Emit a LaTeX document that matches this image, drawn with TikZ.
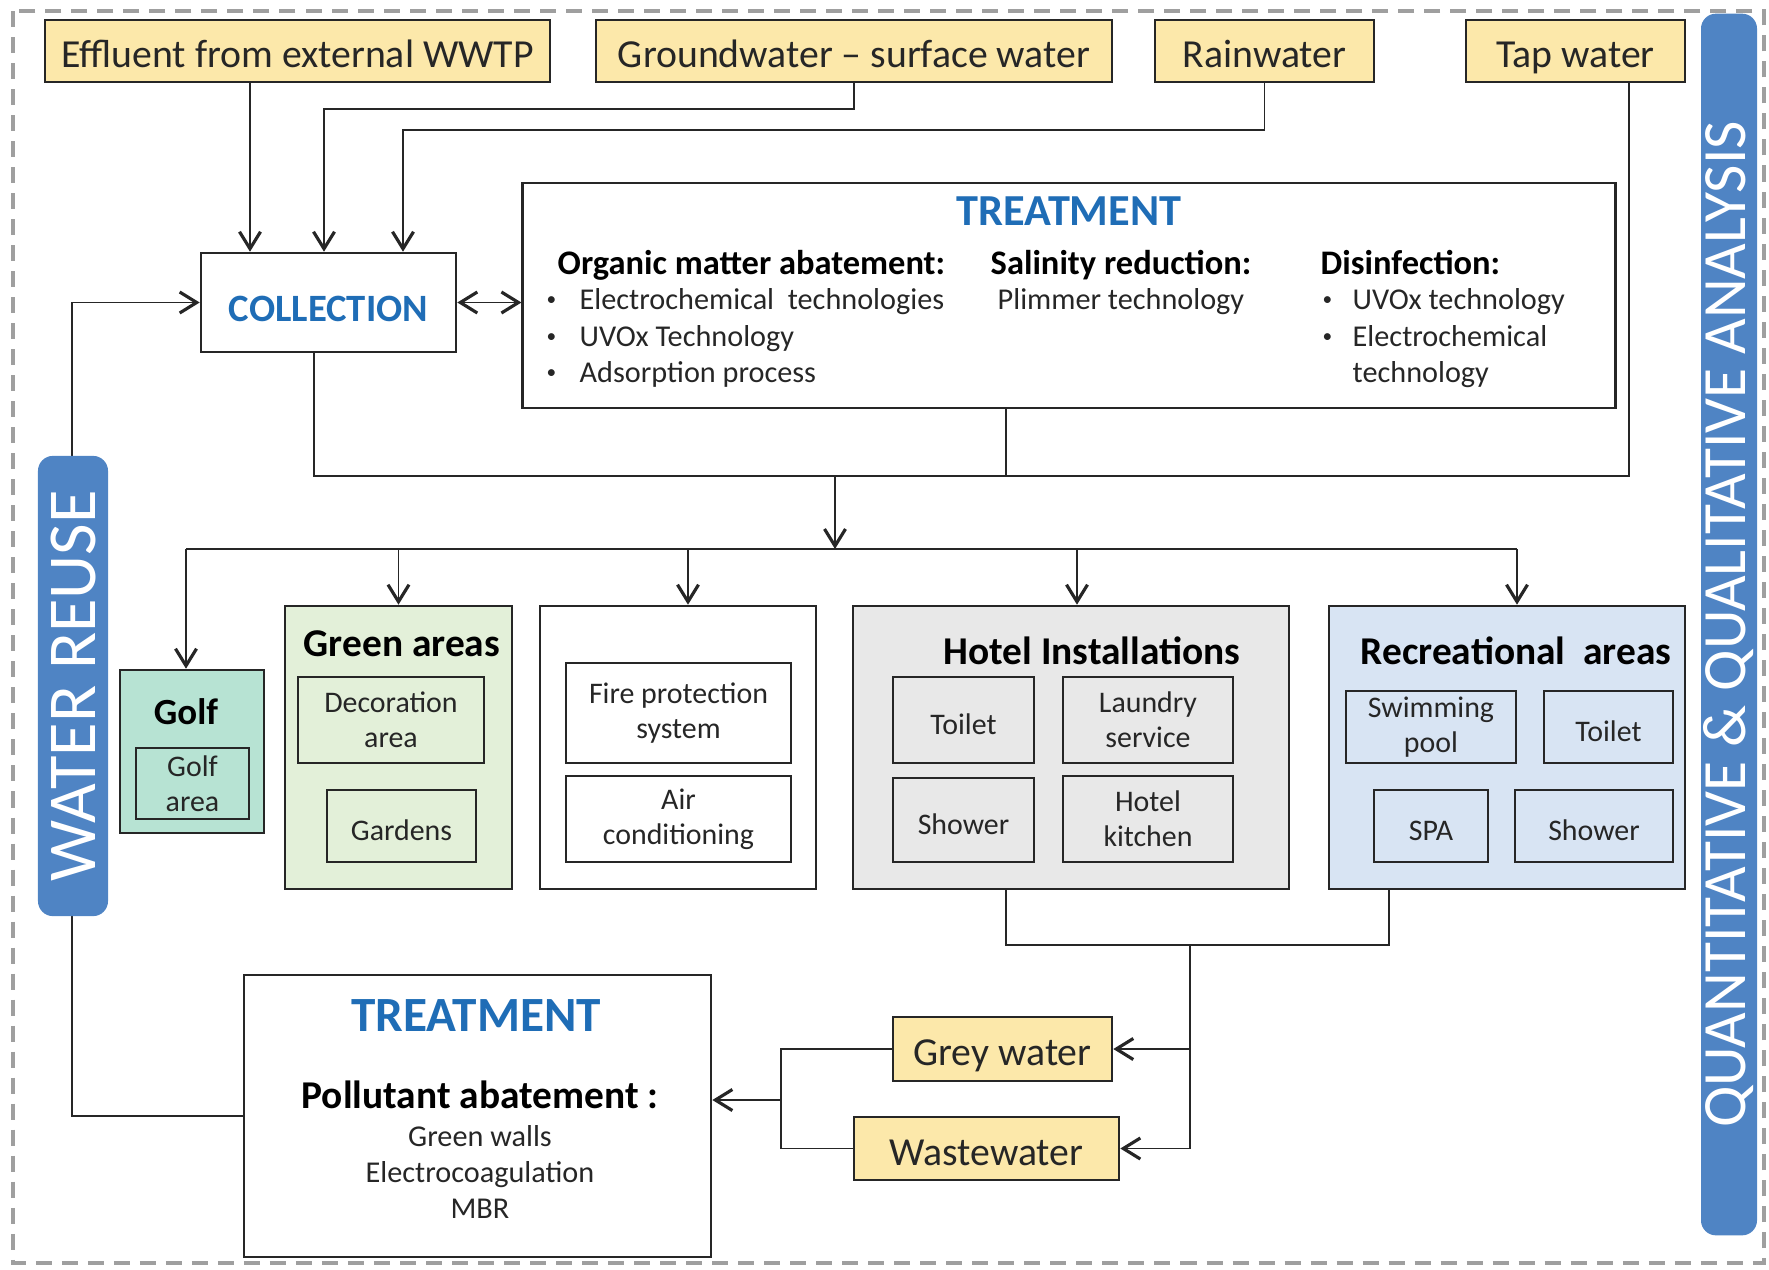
\documentclass[tikz,border=0pt]{standalone}
\usepackage{fontspec}
\setmainfont{Carlito}
\usetikzlibrary{positioning,arrows.meta}
\definecolor{srcfill}{HTML}{FCE8AA}
\definecolor{golffill}{HTML}{B7E3D3}
\definecolor{greenfill}{HTML}{E3F0D9}
\definecolor{hotelfill}{HTML}{E8E8E8}
\definecolor{recfill}{HTML}{D8E4F3}
\definecolor{barblue}{HTML}{4F84C4}
\definecolor{ttlblue}{HTML}{1F6DB6}

\begin{document}
\begin{tikzpicture}[x=0.01cm,y=-0.01cm,
	box/.style={draw=black!85,line width=0.7pt,inner sep=0pt,align=center,text=black!85},
	srcbox/.style={box,fill=srcfill,font=\fontsize{11.3}{13}\selectfont,text height=9.5pt,text depth=0pt},
	subbox/.style={box,font=\fontsize{8.5}{10}\selectfont},
	onebox/.style={subbox,text height=8pt,text depth=0pt},
	ttl/.style={font=\fontsize{11.2}{13}\selectfont\bfseries,anchor=base,inner sep=0pt},
	hd/.style={font=\fontsize{9.8}{12}\selectfont\bfseries,anchor=base west,inner sep=0pt},
	itm/.style={font=\fontsize{8.6}{10}\selectfont,anchor=base west,inner sep=0pt,text=black!85},
	blt/.style={itm,font=\fontsize{5.5}{6}\selectfont},
	conn/.style={draw=black!85,line width=0.55pt},
	arr/.style={conn,-{Straight Barb[length=1.7mm,width=2.1mm,line width=0.9pt]}},
	bar/.style={fill=barblue,rounded corners=1.5mm,text=white,rotate=90,inner sep=0pt}]
	\useasboundingbox (0,0) rectangle (1769,1269);
	\draw[gray!75,line width=1.1pt,dash pattern=on 0.16cm off 0.1cm] (13,11) rectangle (1764,1263);
	% sources
	\node[srcbox,minimum width=5.05cm,minimum height=0.62cm] (eff) at (297.5,51) {Effluent from external WWTP};
	\node[srcbox,minimum width=5.16cm,minimum height=0.62cm] (gw) at (854,51) {Groundwater -- surface water};
	\node[srcbox,minimum width=2.19cm,minimum height=0.62cm] (rain) at (1264.5,51) {Rainwater};
	\node[srcbox,minimum width=2.19cm,minimum height=0.62cm] (tap) at (1575.5,51) {Tap water};
	\node[box,minimum width=2.55cm,minimum height=0.99cm,text=ttlblue,font=\fontsize{11}{13}\selectfont\bfseries,text height=11pt,text depth=0pt] (col) at (328.5,302.5) {COLLECTION};
	% treatment
	\node[box,minimum width=10.92cm,minimum height=2.25cm] (treat) at (1069,295.5) {};
	\node[font=\fontsize{12.6}{14}\selectfont\bfseries,text=ttlblue,anchor=base,inner sep=0pt] (treatttl) at (1069,225) {TREATMENT};
	\node[hd] (om) at (557,274) {Organic matter abatement:};
	\node[itm] (om1) at (579,309) {Electrochemical\ \ technologies};
	\node[itm] (om2) at (579,346) {UVOx Technology};
	\node[itm] (om3) at (579,382) {Adsorption process};
	\node[hd] (sr) at (990,274) {Salinity reduction:};
	\node[itm] (sr1) at (997,309) {Plimmer technology};
	\node[hd] (ds) at (1320,274) {Disinfection:};
	\node[itm] (ds1) at (1352,309) {UVOx technology};
	\node[itm] (ds2) at (1352,346) {Electrochemical};
	\node[itm] (ds3) at (1352,382) {technology};
	\foreach \y in {309,346,382} \node[blt] (ba\y) at (546,\y-4) {\textbullet};
	\foreach \y in {309,346} \node[blt] (bb\y) at (1322,\y-4) {\textbullet};
	% inflows
	\coordinate (c1) at (250,0);
	\coordinate (c2) at (324,109);
	\coordinate (c3) at (403,130);
	\draw[arr] (c1 |- eff.south) -- (c1 |- col.north);
	\draw[arr] (gw.south) |- (c2) -- (c2 |- col.north);
	\draw[arr] (rain.south) |- (c3) -- (c3 |- col.north);
	\draw[conn,{Straight Barb[length=1.7mm,width=2.1mm,line width=0.9pt]}-{Straight Barb[length=1.7mm,width=2.1mm,line width=0.9pt]}] (col.east) -- (col.east -| treat.west);
	% supply line
	\coordinate (j1) at (314,476);
	\coordinate (j2) at (1629,476);
	\coordinate (j3) at (1006,476);
	\coordinate (j4) at (835,476);
	\coordinate (d) at (835,549);
	\draw[conn] (j1 |- col.south) -- (j1) -- (j2) -- (j2 |- tap.south);
	\draw[conn] (j3 |- treat.south) -- (j3);
	\draw[arr] (j4) -- (d);
	% uses
	\node[box,fill=golffill,minimum width=1.44cm,minimum height=1.63cm] (golf) at (192,751.5) {};
	\node[ttl,font=\fontsize{10.5}{12}\selectfont\bfseries] (golfttl) at (186,724) {Golf};
	\node[subbox,fill=golffill,minimum width=1.13cm,minimum height=0.71cm] (golfa) at (192.5,783.5) {Golf\\area};
	\node[box,fill=greenfill,minimum width=2.27cm,minimum height=2.83cm] (green) at (398.5,747.5) {};
	\node[ttl] (greenttl) at (402,656) {Green areas};
	\node[subbox,fill=greenfill,minimum width=1.86cm,minimum height=0.86cm] (deco) at (391,720) {Decoration\\area};
	\node[onebox,fill=greenfill,minimum width=1.49cm,minimum height=0.72cm] (gard) at (401.5,826) {Gardens};
	\node[box,minimum width=2.76cm,minimum height=2.83cm] (misc) at (678,747.5) {};
	\node[subbox,minimum width=2.25cm,minimum height=1.0cm] (fire) at (678.5,713) {Fire protection\\system};
	\node[subbox,minimum width=2.25cm,minimum height=0.86cm] (air) at (678.5,819) {Air\\conditioning};
	\node[box,fill=hotelfill,minimum width=4.36cm,minimum height=2.83cm] (hotel) at (1071,747.5) {};
	\node[ttl] (hotelttl) at (1092,664) {Hotel Installations};
	\node[onebox,fill=hotelfill,minimum width=1.41cm,minimum height=0.86cm] (toil1) at (963.5,720) {Toilet};
	\node[subbox,fill=hotelfill,minimum width=1.70cm,minimum height=0.86cm] (laun) at (1148,720) {Laundry\\service};
	\node[onebox,fill=hotelfill,minimum width=1.41cm,minimum height=0.84cm] (show1) at (963.5,820) {Shower};
	\node[subbox,fill=hotelfill,minimum width=1.70cm,minimum height=0.86cm] (kitch) at (1148,819) {Hotel\\kitchen};
	\node[box,fill=recfill,minimum width=3.56cm,minimum height=2.83cm] (rec) at (1507,747.5) {};
	\node[ttl] (recttl) at (1516,664) {Recreational\ \ areas};
	\node[subbox,fill=recfill,minimum width=1.70cm,minimum height=0.72cm] (swim) at (1431,727) {Swimming\\pool};
	\node[onebox,fill=recfill,minimum width=1.29cm,minimum height=0.72cm] (toil2) at (1608.5,727) {Toilet};
	\node[onebox,fill=recfill,minimum width=1.14cm,minimum height=0.72cm] (spa) at (1431,826) {SPA};
	\node[onebox,fill=recfill,minimum width=1.58cm,minimum height=0.72cm] (show2) at (1594,826) {Shower};
	\coordinate (dg) at (186,549);
	\coordinate (dm) at (688,549);
	\coordinate (dh) at (1077,549);
	\coordinate (dr) at (1517,549);
	\draw[conn] (dg) -- (dr);
	\draw[arr] (dg) -- (dg |- golf.north);
	\draw[arr] (green.north |- d) -- (green.north);
	\draw[arr] (dm) -- (dm |- misc.north);
	\draw[arr] (dh) -- (dh |- hotel.north);
	\draw[arr] (dr) -- (dr |- rec.north);
	% return
	\node[srcbox,minimum width=2.19cm,minimum height=0.64cm] (grey) at (1002.5,1049) {Grey water};
	\node[srcbox,minimum width=2.65cm,minimum height=0.63cm] (waste) at (986.5,1148.5) {Wastewater};
	\node[box,minimum width=4.67cm,minimum height=2.82cm] (treat2) at (477.5,1116) {};
	\node[font=\fontsize{14}{16}\selectfont\bfseries,text=ttlblue,anchor=base,inner sep=0pt] (treat2ttl) at (476,1031) {TREATMENT};
	\node[ttl] (pa) at (480,1108) {Pollutant abatement :};
	\node[itm,anchor=base] (pa1) at (480,1146) {Green walls};
	\node[itm,anchor=base] (pa2) at (480,1182) {Electrocoagulation};
	\node[itm,anchor=base] (pa3) at (480,1218) {MBR};
	\coordinate (k1) at (1006,945);
	\coordinate (k2) at (1389,945);
	\coordinate (k3) at (1190,945);
	\coordinate (k4) at (781,1100);
	\coordinate (fb) at (72,0);
	\draw[conn] (k1 |- hotel.south) -- (k1) -- (k2) -- (k2 |- rec.south);
	\draw[arr] (k3) |- (grey.east);
	\draw[arr] (k3) |- (waste.east);
	\draw[conn] (grey.west) -| (k4) |- (waste.west);
	\draw[arr] (k4) -- (k4 -| treat2.east);
	\draw[arr] (treat2.west) -| (fb |- col.west) -- (col.west);
	% side bars
	\node[bar,minimum width=4.6cm,minimum height=0.7cm,font=\fontsize{19.5}{20}\selectfont] (reuse) at (73,686) {WATER REUSE};
	\node[bar,minimum width=12.21cm,minimum height=0.56cm,font=\fontsize{17.5}{18}\selectfont] (qa) at (1729,624.5) {QUANTITATIVE \& QUALITATIVE ANALYSIS};
\end{tikzpicture}
\end{document}
